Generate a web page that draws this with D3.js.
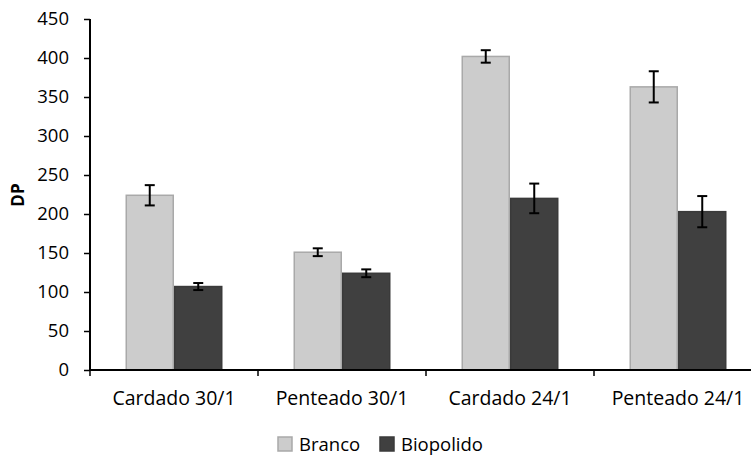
<!DOCTYPE html>
<html>
<head>
<meta charset="utf-8">
<script src="https://cdn.jsdelivr.net/npm/d3@7/dist/d3.min.js"></script>
<style>
  html, body { margin: 0; padding: 0; background: #fff; }
  svg { display: block; }
  text { font-family: "Open Sans", Carlito, Lato, sans-serif; fill: #000; }
</style>
</head>
<body>
<svg id="chart" width="751" height="456"></svg>
<script>
// Fio / processo
const categories = ["Cardado 30/1", "Penteado 30/1", "Cardado 24/1", "Penteado 24/1"];
const seriesNames = ["Branco", "Biopolido"];
const brancoValues = [224, 151, 402, 363];
const brancoErrors = [13, 5, 8, 20];
const biopolidoValues = [107, 124, 220, 203];
const biopolidoErrors = [4.5, 5, 19, 20];
const yTicks = [0, 50, 100, 150, 200, 250, 300, 350, 400, 450];

const colors = { Branco: "#cccccc", Biopolido: "#404040" };
const strokes = { Branco: "#a9a9a9", Biopolido: "#3a3a3a" };
const fontFamily = "'Open Sans', Carlito, Lato, sans-serif";

const rows = categories.map((c, i) => ({
  category: c,
  bars: [
    { series: "Branco", value: brancoValues[i], err: brancoErrors[i] },
    { series: "Biopolido", value: biopolidoValues[i], err: biopolidoErrors[i] }
  ]
}));

const svg = d3.select("#chart");
const plotLeft = 90, plotRight = 762, plotTop = 19, plotBottom = 370;

const x0 = d3.scaleBand().domain(categories).range([plotLeft, plotRight]).padding(0);
const x1 = d3.scaleBand().domain(seriesNames).range([0, x0.bandwidth()])
  .paddingInner(0).paddingOuter(0.732);
const y = d3.scaleLinear().domain([0, 450]).range([plotBottom, plotTop]);

// Barras
const groups = svg.append("g").selectAll("g").data(rows).join("g")
  .attr("transform", d => `translate(${x0(d.category)},0)`);

groups.selectAll("rect").data(d => d.bars).join("rect")
  .attr("x", d => x1(d.series) + 0.75)
  .attr("y", d => y(d.value))
  .attr("width", x1.bandwidth() - 1.5)
  .attr("height", d => y(0) - y(d.value))
  .attr("fill", d => colors[d.series])
  .attr("stroke", d => strokes[d.series])
  .attr("stroke-width", 1.5);

// Barras de erro
const eb = groups.selectAll("g.err").data(d => d.bars).join("g").attr("class", "err")
  .attr("stroke", "#000").attr("stroke-width", 2);
const cx = d => x1(d.series) + x1.bandwidth() / 2;
eb.append("line").attr("x1", cx).attr("x2", cx)
  .attr("y1", d => y(d.value + d.err)).attr("y2", d => y(d.value - d.err));
eb.append("line").attr("x1", d => cx(d) - 5).attr("x2", d => cx(d) + 5)
  .attr("y1", d => y(d.value + d.err)).attr("y2", d => y(d.value + d.err));
eb.append("line").attr("x1", d => cx(d) - 5).attr("x2", d => cx(d) + 5)
  .attr("y1", d => y(d.value - d.err)).attr("y2", d => y(d.value - d.err));

// Eixo Y
const yAxis = svg.append("g").attr("transform", `translate(${plotLeft},0)`)
  .call(d3.axisLeft(y).tickValues(yTicks).tickSize(6).tickPadding(15));
yAxis.select(".domain").attr("stroke", "#000").attr("stroke-width", 2)
  .attr("d", `M0,${plotBottom}V${plotTop}`);
yAxis.selectAll(".tick line").attr("stroke", "#000").attr("stroke-width", 1.5);
yAxis.selectAll(".tick text").attr("font-size", 18.5)
  .style("font-family", fontFamily);

// Eixo X
const xAxis = svg.append("g").attr("transform", `translate(0,${plotBottom})`);
xAxis.append("line").attr("x1", plotLeft).attr("x2", plotRight)
  .attr("y1", 0).attr("y2", 0).attr("stroke", "#000").attr("stroke-width", 2);
xAxis.selectAll("line.tk").data(categories.concat(["end"])).join("line").attr("class", "tk")
  .attr("x1", (d, i) => plotLeft + i * x0.step()).attr("x2", (d, i) => plotLeft + i * x0.step())
  .attr("y1", 0).attr("y2", 6).attr("stroke", "#000").attr("stroke-width", 1.5);
xAxis.selectAll("text").data(categories).join("text")
  .attr("x", d => x0(d) + x0.bandwidth() / 2)
  .attr("y", 35)
  .attr("text-anchor", "middle")
  .attr("font-size", 19.5)
  .text(d => d);

// Título do eixo Y
svg.append("text")
  .attr("transform", "translate(23.5,195) rotate(-90)")
  .attr("text-anchor", "middle")
  .attr("font-size", 17)
  .attr("font-weight", "bold")
  .text("DP");

// Legenda
const legendX = [278, 380];
const legend = svg.append("g").selectAll("g").data(seriesNames).join("g")
  .attr("transform", (d, i) => `translate(${legendX[i]},437)`);
legend.append("rect").attr("width", 14).attr("height", 14)
  .attr("fill", d => colors[d]).attr("stroke", d => strokes[d]).attr("stroke-width", 1.5);
legend.append("text").attr("x", 21).attr("y", 14).attr("font-size", 18.5).text(d => d);
</script>
</body>
</html>
